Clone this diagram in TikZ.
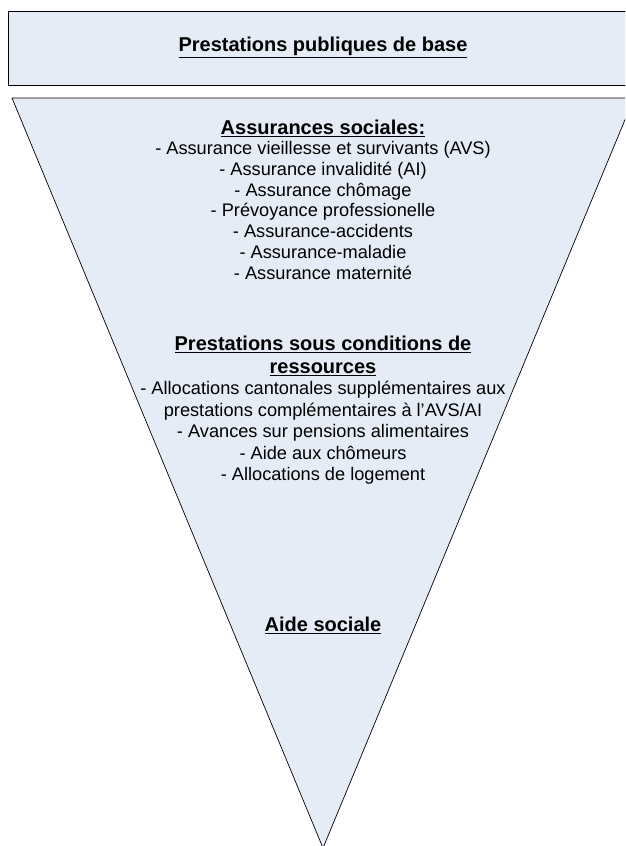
\documentclass[tikz,border=0pt]{standalone}
\usepackage{fontspec}
\setmainfont{Liberation Sans}
\usetikzlibrary{positioning}
\definecolor{paleblue}{RGB}{230,236,246}
\tikzset{
  panel/.style={draw=black, fill=paleblue, line width=0.7pt},
  title/.style={font=\fontsize{20}{23}\selectfont\bfseries, align=center, inner sep=0pt},
  items/.style={font=\fontsize{18.2}{#1}\selectfont, align=center, inner sep=0pt},
  items/.default=20.8,
}
\begin{document}
\begin{tikzpicture}[x=1pt, y=-1pt, line join=round]
	\useasboundingbox (0,0) rectangle (625,846);
	\clip (0,0) rectangle (625,846);
	\path
	(12,98) coordinate (TL)
	(634,98) coordinate (TR)
	(323,848) coordinate (A)
	;
	\node[panel, minimum width=624pt, minimum height=74pt, anchor=north west] (base) at (8,11) {};
	\node[title] (baseT) at (323,47) {\underline{Prestations publiques de base}};
	
	\draw[panel] (TL)--(TR)--(A)--cycle;
	
	\node[title] (soc) at (323,128) {\underline{Assurances sociales:}};
	\node[items, below=4.5pt of soc] (socL) {- Assurance vieillesse et survivants (AVS)\\
		- Assurance invalidité (AI)\\
		- Assurance chômage\\
		- Prévoyance professionelle\\
		- Assurance-accidents\\
		- Assurance-maladie\\
		- Assurance maternité};
	
	\node[title] (res) at (323,355.5) {\underline{Prestations sous conditions de}\\\underline{ressources}};
	\node[items=21.5, below=5.5pt of res] (resL) {- Allocations cantonales supplémentaires aux\\
		prestations complémentaires à l’AVS/AI\\
		- Avances sur pensions alimentaires\\
		- Aide aux chômeurs\\
		- Allocations de logement};
	
	\node[title] (aide) at (323,625) {\underline{Aide sociale}};
\end{tikzpicture}
\end{document}
